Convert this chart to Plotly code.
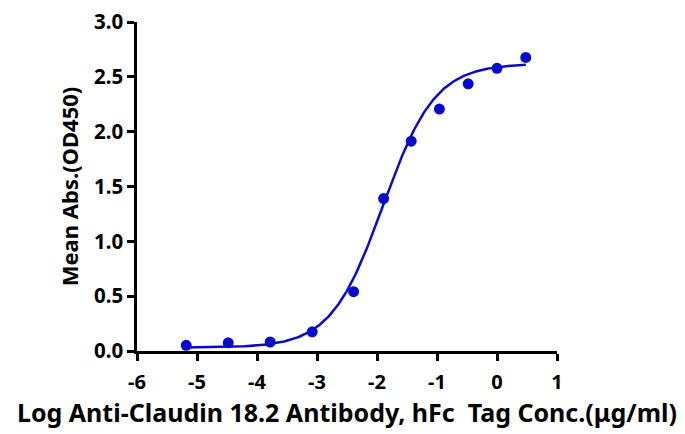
import numpy as np
import plotly.graph_objects as go

# Measured points (log concentration, mean absorbance)
log_conc = [-5.18, -4.48, -3.78, -3.08, -2.39, -1.89, -1.43, -0.96, -0.48, 0.0, 0.48]
mean_abs = [0.052, 0.075, 0.082, 0.175, 0.541, 1.39, 1.913, 2.206, 2.436, 2.578, 2.677]

# 4PL fit parameters
fit_bottom = 0.03
fit_top = 2.62
fit_log_ec50 = -1.90
fit_hill = 1.0

x_tick_vals = [-6, -5, -4, -3, -2, -1, 0, 1]
y_tick_vals = [0.0, 0.5, 1.0, 1.5, 2.0, 2.5, 3.0]

color = "#0a0acb"
font_family = "Noto Sans, Open Sans, sans-serif"

xc = np.linspace(min(log_conc), max(log_conc), 300)
yc = fit_bottom + (fit_top - fit_bottom) / (1 + 10 ** ((fit_log_ec50 - xc) * fit_hill))

fig = go.Figure()
fig.add_trace(go.Scatter(x=xc, y=yc, mode="lines",
                         line=dict(color=color, width=2.5),
                         hoverinfo="skip", showlegend=False, cliponaxis=False))
fig.add_trace(go.Scatter(x=log_conc, y=mean_abs, mode="markers",
                         marker=dict(color=color, size=11),
                         showlegend=False, cliponaxis=False))

# page body has an 8px margin, so the figure is sized to fit the remaining window
fig.update_layout(
    width=677, height=426,
    margin=dict(l=129, r=128, t=14, b=83),
    paper_bgcolor="white", plot_bgcolor="white",
    font=dict(family=font_family, color="black"),
)
fig.update_xaxes(
    range=[-6, 1], tickvals=x_tick_vals, ticktext=[str(v) for v in x_tick_vals],
    automargin=False, ticklabeloverflow="allow",
    showgrid=False, zeroline=False, showline=True, linecolor="black", linewidth=2.5,
    ticks="outside", ticklen=7, tickwidth=2.5, tickcolor="black",
    ticklabelstandoff=4,
    tickfont=dict(size=20, family=font_family, weight="bold"),
    title=dict(text="Log Anti-Claudin 18.2 Antibody, hFc\u00a0 Tag Conc.(μg/ml)",
               font=dict(size=25, family=font_family, weight="bold"), standoff=8),
)
fig.update_yaxes(
    range=[0, 3], tickvals=y_tick_vals, ticktext=[f"{v:.1f}" for v in y_tick_vals],
    automargin=False, ticklabeloverflow="allow",
    showgrid=False, zeroline=False, showline=True, linecolor="black", linewidth=2.5,
    ticks="outside", ticklen=7, tickwidth=2.5, tickcolor="black",
    tickfont=dict(size=20.5, family=font_family, weight="bold"),
    title=dict(text="Mean Abs.(OD450)",
               font=dict(size=22, family=font_family, weight="bold"), standoff=10),
)

fig.write_html("out.html")
